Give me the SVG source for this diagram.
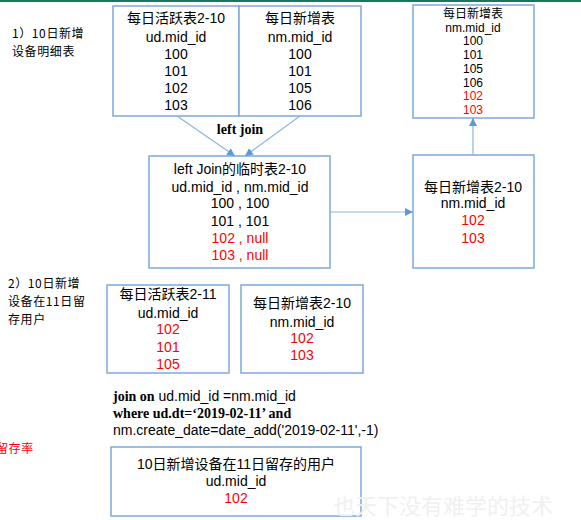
<svg xmlns="http://www.w3.org/2000/svg" width="581" height="520" viewBox="0 0 581 520">
<style>
.box{fill:#ffffff;stroke:#7ea9dc;stroke-width:1.5}
.t{font-family:"Liberation Sans","Noto Sans CJK SC",sans-serif;font-size:14px;fill:#000;text-anchor:middle}
.s{font-size:12px}
.lbl{font-family:"Noto Sans CJK SC","Liberation Sans",sans-serif;font-size:12px;letter-spacing:0.6px;fill:#000}
.r{fill:#ff0000}
.b{font-family:"Liberation Serif",serif;font-weight:bold;font-size:14px;fill:#000}
.code{font-family:"Liberation Sans",sans-serif;font-size:14px;fill:#000}
.c{stroke:#8db6e2;stroke-width:1.2;fill:none}
</style>
<defs>
<marker id="ah" viewBox="0 0 10 10" refX="10" refY="5" markerWidth="8" markerHeight="8" markerUnits="userSpaceOnUse" orient="auto">
<path d="M0,0 L10,5 L0,10 z" fill="#5b9bd5"/>
</marker>
</defs>
<rect x="0" y="0" width="581" height="520" fill="#ffffff"/>
<rect x="0" y="0" width="581" height="2" fill="#17785e"/>

<g id="label1">
<text class="lbl" x="12" y="38">1）10日新增</text>
<text class="lbl" x="12" y="56">设备明细表</text>
</g>

<g id="active210">
<rect class="box" x="113" y="6" width="126" height="110"/>
<text class="t" x="176" y="23">每日活跃表2-10</text>
<text class="t" x="176" y="42">ud.mid_id</text>
<text class="t" x="176" y="59">100</text>
<text class="t" x="176" y="76">101</text>
<text class="t" x="176" y="93">102</text>
<text class="t" x="176" y="110">103</text>
</g>

<g id="new210">
<rect class="box" x="239" y="6" width="122" height="110"/>
<text class="t" x="300" y="23">每日新增表</text>
<text class="t" x="300" y="42">nm.mid_id</text>
<text class="t" x="300" y="59">100</text>
<text class="t" x="300" y="76">101</text>
<text class="t" x="300" y="93">105</text>
<text class="t" x="300" y="110">106</text>
</g>

<g id="newtable">
<rect class="box" x="413" y="5" width="121" height="113"/>
<text class="t s" x="473" y="18">每日新增表</text>
<text class="t s" x="473" y="32">nm.mid_id</text>
<text class="t s" x="473" y="45">100</text>
<text class="t s" x="473" y="59">101</text>
<text class="t s" x="473" y="73">105</text>
<text class="t s" x="473" y="87">106</text>
<text class="t s r" x="473" y="100">102</text>
<text class="t s r" x="473" y="114">103</text>
</g>

<g id="leftjoin">
<rect class="box" x="149" y="156" width="181" height="112"/>
<text class="t" x="240" y="174">left Join的临时表2-10</text>
<text class="t" x="240" y="192">ud.mid_id , nm.mid_id</text>
<text class="t" x="240" y="208">100 , 100</text>
<text class="t" x="240" y="226">101 , 101</text>
<text class="t r" x="240" y="243">102 , null</text>
<text class="t r" x="240" y="260">103 , null</text>
</g>

<g id="new210b">
<rect class="box" x="413" y="155" width="121" height="113"/>
<text class="t" x="473" y="192">每日新增表2-10</text>
<text class="t" x="473" y="208">nm.mid_id</text>
<text class="t r" x="473" y="225">102</text>
<text class="t r" x="473" y="243">103</text>
</g>

<g id="label2">
<text class="lbl" x="8" y="288">2）10日新增</text>
<text class="lbl" x="8" y="306">设备在11日留</text>
<text class="lbl" x="8" y="324">存用户</text>
</g>

<g id="active211">
<rect class="box" x="107" y="285" width="122" height="88"/>
<text class="t" x="168" y="299">每日活跃表2-11</text>
<text class="t" x="168" y="318">ud.mid_id</text>
<text class="t r" x="168" y="334">102</text>
<text class="t r" x="168" y="352">101</text>
<text class="t r" x="168" y="369">105</text>
</g>

<g id="new210c">
<rect class="box" x="241" y="285" width="122" height="88"/>
<text class="t" x="302" y="308">每日新增表2-10</text>
<text class="t" x="302" y="327">nm.mid_id</text>
<text class="t r" x="302" y="343">102</text>
<text class="t r" x="302" y="360">103</text>
</g>

<g id="joincond">
<text x="113" y="401"><tspan class="b">join  on</tspan><tspan class="code"> ud.mid_id =nm.mid_id</tspan></text>
<text class="b" x="113" y="418">where ud.dt=‘2019-02-11’  and</text>
<text class="code" x="113" y="435">nm.create_date=date_add('2019-02-11',-1)</text>
</g>

<g id="retention">
<text class="lbl" x="-4" y="453" fill="#ff0000" style="fill:#ff0000">留存率</text>
</g>

<g id="result">
<rect class="box" x="111" y="447" width="250" height="69"/>
<text class="t" x="236" y="469">10日新增设备在11日留存的用户</text>
<text class="t" x="236" y="486">ud.mid_id</text>
<text class="t r" x="236" y="503">102</text>
</g>

<g id="connectors">
<line class="c" x1="177" y1="116" x2="235" y2="156" marker-end="url(#ah)"/>
<line class="c" x1="300" y1="116" x2="245" y2="156" marker-end="url(#ah)"/>
<text class="b" x="240" y="134" text-anchor="middle">left join</text>
<line class="c" x1="330" y1="212" x2="413" y2="212" marker-end="url(#ah)"/>
<line class="c" x1="473" y1="155" x2="473" y2="118" marker-end="url(#ah)"/>
</g>

<text x="333" y="514" font-family="Noto Sans CJK SC,sans-serif" font-size="22" fill="#f0f0f0">也天下没有难学的技术</text>
</svg>
